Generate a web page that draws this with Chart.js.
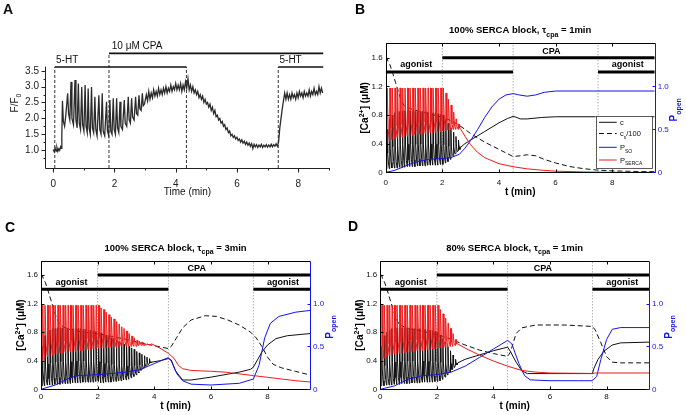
<!DOCTYPE html>
<html>
<head>
<meta charset="utf-8">
<script src="https://cdn.jsdelivr.net/npm/chart.js@4.4.1/dist/chart.umd.min.js"></script>
<style>
  body { margin: 0; background: #fff; width: 686px; height: 415px; position: relative; overflow: hidden; }
  canvas { position: absolute; }
</style>
</head>
<body>
<canvas id="pa" width="343" height="200" style="left:0;top:0"></canvas>
<canvas id="pb" width="343" height="200" style="left:343px;top:0"></canvas>
<canvas id="pc" width="343" height="215" style="left:0;top:200px"></canvas>
<canvas id="pd" width="343" height="215" style="left:343px;top:200px"></canvas>
<script>
var FONT = '"Liberation Sans", Arial, Helvetica, sans-serif';
var RED = '#ee1c1c';
var BLUE = '#1414f0';

// ---------- panel A: measured F/F0 trace (time in min)
var traceA = [
  [0.00,1.02],[0.03,0.95],[0.06,1.06],[0.09,0.97],[0.12,1.08],[0.15,0.96],[0.18,1.04],[0.21,0.99],[0.24,1.10],[0.26,1.05],
  [0.28,1.50],[0.30,2.55],[0.33,1.90],[0.37,1.75],[0.41,2.10],
  [0.47,2.79],[0.50,2.15],[0.54,1.95],
  [0.58,3.15],[0.61,2.00],[0.66,1.80],
  [0.71,3.21],[0.74,1.95],[0.78,1.70],
  [0.82,3.10],[0.85,1.85],[0.89,1.65],
  [0.93,2.99],[0.96,1.80],[1.00,1.60],
  [1.04,3.05],[1.07,1.75],[1.11,1.55],
  [1.14,2.94],[1.17,1.70],[1.21,1.50],
  [1.25,2.99],[1.28,1.70],[1.32,1.55],
  [1.36,2.68],[1.39,1.65],[1.43,1.45],
  [1.49,2.73],[1.52,1.65],[1.56,1.50],
  [1.60,2.79],[1.63,1.60],[1.68,1.45],
  [1.74,2.52],[1.77,1.60],[1.81,1.45],
  [1.85,2.58],[1.88,1.60],[1.92,1.50],
  [1.96,2.63],[1.99,1.65],[2.03,1.50],
  [2.07,2.63],[2.10,1.70],[2.14,1.55],
  [2.18,2.52],[2.21,1.75],[2.26,1.65],
  [2.32,2.58],[2.35,1.85],[2.40,1.75],
  [2.45,2.68],[2.48,1.95],[2.52,1.85],
  [2.56,2.63],[2.59,2.05],[2.64,1.95],
  [2.69,2.68],[2.72,2.15],[2.76,2.10],
  [2.80,2.73],[2.83,2.30],[2.87,2.25],
  [2.91,2.79],[2.94,2.40],[2.98,2.45],
  [3.04,2.75],[3.08,2.55],[3.12,2.85],[3.16,2.60],[3.20,2.80],[3.24,2.65],[3.28,2.90],[3.32,2.70],[3.36,2.85],[3.40,2.70],
  [3.44,2.95],[3.48,2.75],[3.52,2.90],[3.56,2.75],[3.60,2.95],[3.64,2.80],[3.68,3.00],[3.72,2.80],[3.76,2.95],[3.80,2.85],
  [3.84,3.05],[3.88,2.85],[3.92,3.00],[3.96,2.90],[4.00,3.10],[4.04,2.90],[4.08,3.05],[4.12,2.90],[4.16,3.10],[4.20,2.85],
  [4.24,3.05],[4.28,2.90],[4.32,3.15],[4.36,2.95],[4.40,3.25],[4.44,2.90],[4.48,3.05],[4.52,2.85],[4.56,3.00],[4.60,2.80],
  [4.64,2.90],[4.68,2.75],[4.72,2.85],[4.76,2.65],[4.80,2.75],[4.84,2.60],[4.88,2.70],[4.92,2.50],[4.96,2.60],[5.00,2.45],
  [5.04,2.50],[5.08,2.35],[5.12,2.45],[5.16,2.25],[5.20,2.35],[5.24,2.15],[5.28,2.25],[5.32,2.05],[5.36,2.10],[5.40,1.95],
  [5.44,2.00],[5.48,1.85],[5.52,1.90],[5.56,1.75],[5.60,1.80],[5.64,1.65],[5.68,1.70],[5.72,1.55],[5.76,1.60],[5.80,1.45],
  [5.84,1.50],[5.88,1.40],[5.92,1.45],[5.96,1.35],[6.00,1.40],[6.04,1.30],[6.08,1.35],[6.12,1.25],[6.16,1.32],[6.20,1.22],
  [6.24,1.28],[6.28,1.18],[6.32,1.25],[6.36,1.15],[6.40,1.22],[6.44,1.12],[6.48,1.20],[6.52,1.05],[6.56,1.18],[6.60,1.10],
  [6.64,1.17],[6.68,1.08],[6.72,1.16],[6.76,1.10],[6.80,1.18],[6.84,1.08],[6.88,1.15],[6.92,1.10],[6.96,1.17],[7.00,1.09],
  [7.04,1.16],[7.08,1.10],[7.12,1.18],[7.16,1.10],[7.20,1.17],[7.24,1.12],[7.28,1.20],[7.32,1.12],[7.36,1.25],[7.40,1.70],
  [7.44,2.00],[7.48,2.30],[7.52,2.55],[7.56,2.80],[7.60,2.60],[7.64,2.80],[7.68,2.60],[7.72,2.75],[7.76,2.60],[7.80,2.80],
  [7.84,2.65],[7.88,2.75],[7.92,2.60],[7.96,2.80],[8.00,2.65],[8.04,2.85],[8.08,2.70],[8.12,2.80],[8.16,2.65],[8.20,2.85],
  [8.24,2.70],[8.28,2.80],[8.32,2.70],[8.36,2.90],[8.40,2.70],[8.44,2.85],[8.48,2.75],[8.52,2.95],[8.56,2.75],[8.60,2.85],
  [8.64,2.75],[8.68,3.00],[8.72,2.80],[8.76,2.95],[8.80,2.80]
];
var aBars = [[0.05, 4.35, 3.62], [7.35, 8.82, 3.62], [1.82, 8.82, 4.05]];
var aMarks = [[0.05, 3.62], [1.82, 4.05], [4.35, 3.62], [7.35, 3.62]];
var aLabels = [['5-HT', 0.09, 3.84], ['10 μM CPA', 1.91, 4.26], ['5-HT', 7.39, 3.84]];
var aXTicks = [0, 2, 4, 6, 8];
var aXMinor = [1, 3, 5, 7, 9];
var aYTicks = [1.0, 1.5, 2.0, 2.5, 3.0, 3.5];
var aYMinor = [0.75, 1.25, 1.75, 2.25, 2.75, 3.25];

// ---------- panels B-D: model (t in min; c, cs/100 in uM; P on right axis)
var spikeT = [0.04,0.13,0.22,0.31,0.40,0.49,0.58,0.67,0.76,0.85,0.94,1.03,1.12,1.21,1.30,1.39,1.48,1.57,1.66,1.75,
  1.84,1.93,2.02,2.11,2.20,2.29,2.38,2.47,2.56,2.65,2.74,2.83,2.92,3.01,3.10,3.19,3.28,3.37,3.46,3.55,3.64,3.73,3.82];
// before CPA all three runs are the same
var earlyRedPeak = [0.98,0.98,0.98,0.98,0.98,0.98,0.98,0.98,0.98,0.98,0.98,0.98,0.98,0.98,0.98,0.98,0.98,0.98,0.98,0.98,0.98,0.98,0.98];
var earlyRedLow = [0.33,0.36,0.38,0.39,0.40,0.41,0.41,0.42,0.42,0.43,0.43,0.44,0.44,0.44,0.45,0.45,0.45,0.46,0.46,0.46,0.47,0.47,0.48];
var earlyCPeak = [0.60,0.75,0.80,0.83,0.85,0.85,0.86,0.86,0.86,0.86,0.86,0.85,0.85,0.85,0.85,0.85,0.84,0.84,0.83,0.83,0.82,0.81,0.80];
var earlyCLow = [0.05,0.05,0.06,0.06,0.06,0.07,0.07,0.07,0.08,0.08,0.08,0.08,0.09,0.09,0.09,0.09,0.10,0.10,0.10,0.10,0.10,0.11,0.11];

var bRedPeak = [0.92,0.85,0.78,0.70,0.62,0.56];
var bRedLow = [0.48,0.49,0.49,0.50,0.50,0.50];
var bCPeak = [0.74,0.68,0.62,0.56,0.50,0.45];
var bCLow = [0.13,0.15,0.18,0.22,0.26,0.30];
var bRedTail = [[2.65,0.50],[2.8,0.42],[3.0,0.32],[3.25,0.23],[3.5,0.17],[4.0,0.10],[4.5,0.065],[5.0,0.04],[5.5,0.025],[6.0,0.013],[7.0,0.004],[8.0,0],[9.5,0]];
var bCTail = [[2.65,0.35],[2.8,0.40],[3.0,0.45],[3.5,0.57],[4.0,0.69],[4.3,0.75],[4.5,0.78],[4.6,0.77],[4.75,0.745],[5.0,0.745],[5.5,0.765],[6.0,0.775],[9.5,0.775]];
var bBlue = [[0,0],[0.3,0.02],[0.6,0.06],[0.9,0.10],[1.2,0.13],[1.5,0.15],[2.0,0.16],[2.3,0.17],[2.6,0.21],[2.8,0.28],[3.0,0.37],[3.25,0.50],[3.5,0.64],
  [3.75,0.76],[4.0,0.85],[4.25,0.90],[4.5,0.915],[4.7,0.90],[5.0,0.885],[5.3,0.90],[5.6,0.93],[6.0,0.945],[9.5,0.945]];
var bStore = [[0,1.6],[0.04,1.6],[0.08,1.55],[0.15,1.5],[0.25,1.38],[0.35,1.25],[0.45,1.12],[0.55,1.0],[0.65,0.93],[0.8,0.9],[1.0,0.87],[1.2,0.85],
  [1.5,0.82],[1.8,0.79],[2.0,0.77],[2.2,0.74],[2.5,0.68],[2.8,0.6],[3.0,0.54],[3.5,0.42],[4.0,0.32],[4.5,0.22],[4.75,0.23],[5.0,0.245],[5.3,0.23],
  [5.6,0.18],[6.0,0.13],[6.5,0.08],[7.0,0.05],[7.5,0.03],[8.0,0.02],[9.0,0.01],[9.5,0.01]];

var cRedPeak = [0.95,0.93,0.90,0.87,0.84,0.82,0.79,0.76,0.73,0.71,0.68,0.65,0.62,0.60,0.57,0.56,0.55,0.54,0.53,0.52];
var cRedLow = [0.48,0.48,0.48,0.49,0.49,0.49,0.49,0.50,0.50,0.50,0.50,0.50,0.50,0.50,0.50,0.51,0.51,0.51,0.52,0.52];
var cCPeak = [0.79,0.77,0.76,0.74,0.72,0.71,0.69,0.67,0.65,0.63,0.62,0.60,0.58,0.56,0.53,0.51,0.49,0.47,0.45,0.43];
var cCLow = [0.09,0.09,0.10,0.10,0.10,0.11,0.11,0.12,0.12,0.13,0.13,0.14,0.16,0.18,0.20,0.23,0.27,0.30,0.33,0.36];
var cRedTail = [[3.91,0.53],[4.2,0.48],[4.5,0.42],[4.7,0.36],[4.85,0.28],[5.0,0.24],[5.3,0.22],[6.0,0.21],[6.5,0.20],[7.0,0.18],[7.5,0.16],[8.0,0.14],[8.5,0.12],[9.0,0.10],[9.5,0.085]];
var cCTail = [[3.91,0.38],[4.2,0.40],[4.5,0.43],[4.6,0.41],[4.75,0.26],[5.0,0.13],[5.3,0.13],[6.0,0.17],[7.0,0.24],[7.4,0.28],[7.5,0.31],[7.6,0.38],[7.8,0.52],[8.0,0.62],[8.3,0.71],[8.7,0.75],[9.5,0.78]];
var cBlue = [[0,0],[0.5,0.05],[1.0,0.13],[1.3,0.16],[2.0,0.17],[3.0,0.20],[3.5,0.23],[4.0,0.30],[4.5,0.37],[4.6,0.33],[4.8,0.18],[5.0,0.10],[5.3,0.06],
  [6.0,0.05],[7.0,0.07],[7.5,0.12],[7.7,0.28],[7.9,0.60],[8.1,0.77],[8.4,0.85],[9.0,0.90],[9.5,0.92]];
var cStore = [[0,1.6],[0.04,1.6],[0.08,1.55],[0.15,1.5],[0.25,1.38],[0.35,1.25],[0.45,1.12],[0.55,1.0],[0.65,0.92],[0.8,0.87],[1.0,0.84],[1.5,0.8],
  [2.0,0.78],[2.5,0.74],[3.0,0.7],[3.5,0.65],[4.0,0.61],[4.5,0.57],[4.6,0.6],[4.8,0.73],[5.0,0.86],[5.3,0.97],[5.8,1.03],[6.2,1.02],[6.6,0.97],
  [7.0,0.9],[7.4,0.8],[7.6,0.72],[7.8,0.6],[8.0,0.45],[8.2,0.35],[8.5,0.3],[9.0,0.25],[9.5,0.2]];

var dRedPeak = [0.93,0.88,0.83,0.77,0.71,0.65,0.58];
var dRedLow = [0.48,0.49,0.49,0.50,0.50,0.50,0.51];
var dCPeak = [0.76,0.71,0.66,0.60,0.54,0.48,0.42];
var dCLow = [0.12,0.14,0.17,0.20,0.24,0.28,0.33];
var dRedTail = [[2.74,0.53],[3.0,0.48],[3.5,0.40],[4.0,0.33],[4.5,0.27],[5.0,0.22],[5.5,0.20],[6.0,0.19],[7.5,0.185],[7.6,0.19],[9.5,0.19]];
var dCTail = [[2.74,0.37],[3.0,0.42],[3.5,0.48],[4.0,0.54],[4.5,0.59],[4.6,0.53],[4.8,0.38],[5.0,0.26],[5.2,0.22],[6.0,0.22],[7.5,0.22],[7.55,0.29],
  [7.7,0.42],[7.9,0.53],[8.2,0.62],[8.5,0.65],[9.5,0.66]];
var dBlue = [[0,0],[0.5,0.04],[1.0,0.12],[1.5,0.16],[2.0,0.17],[2.5,0.20],[3.0,0.27],[3.5,0.37],[4.0,0.47],[4.3,0.53],[4.5,0.57],[4.65,0.53],[4.9,0.30],
  [5.1,0.16],[5.3,0.11],[6.0,0.10],[7.0,0.10],[7.5,0.10],[7.65,0.15],[7.8,0.35],[8.0,0.58],[8.2,0.70],[8.5,0.72],[9.5,0.72]];
var dStore = [[0,1.6],[0.04,1.6],[0.08,1.55],[0.15,1.5],[0.25,1.38],[0.35,1.25],[0.45,1.12],[0.55,1.0],[0.65,0.92],[0.8,0.88],[1.0,0.85],[1.5,0.81],
  [2.0,0.77],[2.5,0.7],[3.0,0.62],[3.5,0.55],[4.0,0.5],[4.5,0.46],[4.6,0.52],[4.8,0.78],[5.0,0.86],[5.5,0.9],[6.5,0.9],[7.5,0.88],[7.6,0.83],
  [7.8,0.65],[8.0,0.46],[8.2,0.38],[8.5,0.37],[9.5,0.37]];

var events = [2, 4.5, 7.5];
var agonistOn = [[0, 4.5], [7.5, 9.5]];
var cpaOn = [[2, 9.5]];
var agonistLevel = 1.4, cpaLevel = 1.6;
var leftTicks = [0, 0.4, 0.8, 1.2, 1.6];
var rightTicks = [0, 0.5, 1];
var xTicks = [0, 2, 4, 6, 8];

// spike shapes: [dt, fraction of the way from trough to peak]
var redShape = [[0, 0], [0.012, 1], [0.03, 1], [0.05, 0.25]];
var cShape = [[0, 0], [0.012, 1], [0.03, 0.4], [0.06, 0.12]];

function pts(list) {
  return list.map(function (p) { return { x: p[0], y: p[1] }; });
}

function spikes(peaks, lows, shape, tail) {
  var out = [{ x: 0, y: lows[0] }];
  for (var i = 0; i < peaks.length; i++) {
    shape.forEach(function (s) {
      out.push({ x: spikeT[i] + s[0], y: lows[i] + s[1] * (peaks[i] - lows[i]) });
    });
  }
  return out.concat(pts(tail));
}

function seg(ctx, x1, y1, x2, y2) {
  ctx.beginPath(); ctx.moveTo(x1, y1); ctx.lineTo(x2, y2); ctx.stroke();
}

// text with sub/superscripts: parts = [[text, ''|'sub'|'sup'], ...]
function rich(ctx, parts, x, y, size, weight, color, align) {
  function font(k) { return weight + ' ' + (k ? Math.round(size * 0.72) : size) + 'px ' + FONT; }
  var w = 0;
  parts.forEach(function (p) { ctx.font = font(p[1]); w += ctx.measureText(p[0]).width; });
  var cx = align === 'center' ? x - w / 2 : x;
  ctx.fillStyle = color; ctx.textAlign = 'left'; ctx.textBaseline = 'alphabetic';
  parts.forEach(function (p) {
    ctx.font = font(p[1]);
    var dy = p[1] === 'sub' ? size * 0.38 : (p[1] === 'sup' ? -size * 0.4 : 0);
    ctx.fillText(p[0], cx, y + dy);
    cx += ctx.measureText(p[0]).width;
  });
}

function richUp(ctx, parts, cx, cy, size, weight, color) {
  ctx.save();
  ctx.translate(cx, cy);
  ctx.rotate(-Math.PI / 2);
  rich(ctx, parts, 0, size * 0.36, size, weight, color, 'center');
  ctx.restore();
}

function fixedTicks(list) {
  return function (s) { s.ticks = list.map(function (v) { return { value: v }; }); };
}

function lineSet(data, color, axis, order, extra) {
  var d = { data: data, borderColor: color, borderWidth: 1, pointRadius: 0, tension: 0, fill: false, yAxisID: axis, order: order };
  for (var k in extra) d[k] = extra[k];
  return d;
}

// ---------- panel A chart
var aSets = [lineSet(pts(traceA), '#2b2b2b', 'y', 2, { borderWidth: 1.3 })];
aBars.forEach(function (b) {
  aSets.push(lineSet([{ x: b[0], y: b[2] }, { x: b[1], y: b[2] }], '#111', 'y', 1, { borderWidth: 1.6 }));
});
aMarks.forEach(function (m) {
  aSets.push(lineSet([{ x: m[0], y: 0.434 }, { x: m[0], y: m[1] }], '#333', 'y', 3, { borderDash: [3, 2] }));
});

new Chart(document.getElementById('pa'), {
  type: 'line',
  data: { datasets: aSets },
  options: {
    responsive: false, animation: false, events: [],
    layout: { padding: { top: 35.9, right: 13, left: 0, bottom: 0 } },
    plugins: { legend: { display: false }, tooltip: { enabled: false } },
    scales: {
      x: {
        type: 'linear', min: -0.27, max: 9.04,
        grid: { display: false, drawTicks: false }, border: { display: false },
        afterBuildTicks: fixedTicks(aXTicks),
        afterFit: function (s) { s.height = 32; },
        ticks: { padding: 10, color: '#222', font: { family: FONT, size: 10 }, maxRotation: 0, autoSkip: false }
      },
      y: {
        min: 0.434, max: 4.6,
        grid: { display: false, drawTicks: false }, border: { display: false },
        afterBuildTicks: fixedTicks(aYTicks),
        afterFit: function (s) { s.width = 45; },
        ticks: { padding: 6, color: '#222', font: { family: FONT, size: 10 }, callback: function (v) { return v.toFixed(1); } }
      }
    }
  },
  plugins: [{
    id: 'panelA',
    afterDraw: function (chart) {
      var ctx = chart.ctx, ca = chart.chartArea, xs = chart.scales.x, ys = chart.scales.y;
      ctx.save();
      ctx.strokeStyle = '#222'; ctx.lineWidth = 1;
      var x0 = Math.round(ca.left) + 0.5, yb = Math.round(ca.bottom) + 0.5;
      seg(ctx, x0, yb, x0, ys.getPixelForValue(3.63));
      seg(ctx, x0, yb, ca.right, yb);
      aYTicks.forEach(function (v) { var p = Math.round(ys.getPixelForValue(v)) + 0.5; seg(ctx, x0 - 4, p, x0, p); });
      aYMinor.forEach(function (v) { var p = Math.round(ys.getPixelForValue(v)) + 0.5; seg(ctx, x0 - 2, p, x0, p); });
      aXTicks.forEach(function (v) { var p = Math.round(xs.getPixelForValue(v)) + 0.5; seg(ctx, p, yb, p, yb + 4); });
      aXMinor.forEach(function (v) { var p = Math.round(xs.getPixelForValue(v)) + 0.5; seg(ctx, p, yb, p, yb + 2); });
      ctx.fillStyle = '#111'; ctx.font = '10px ' + FONT; ctx.textAlign = 'left'; ctx.textBaseline = 'middle';
      aLabels.forEach(function (l) { ctx.fillText(l[0], xs.getPixelForValue(l[1]), ys.getPixelForValue(l[2])); });
      ctx.textAlign = 'center';
      ctx.fillText('Time (min)', (ca.left + ca.right) / 2, 192);
      richUp(ctx, [['F/F', ''], ['0', 'sub']], 14, 103, 10, 'normal', '#222');
      ctx.font = 'bold 14px ' + FONT; ctx.textAlign = 'left'; ctx.textBaseline = 'alphabetic';
      ctx.fillText('A', 3, 14);
      ctx.restore();
    }
  }]
});

// ---------- model panels
function modelChart(id, p) {
  var sets = [
    lineSet(spikes(earlyRedPeak.concat(p.redPeak), earlyRedLow.concat(p.redLow), redShape, p.redTail), RED, 'y1', 2),
    lineSet(pts(p.blue), BLUE, 'y1', 3),
    lineSet(pts(p.store), '#111', 'y', 4, { borderDash: [5, 3] }),
    lineSet(spikes(earlyCPeak.concat(p.cPeak), earlyCLow.concat(p.cLow), cShape, p.cTail), '#111', 'y', 5)
  ];
  agonistOn.forEach(function (b) {
    sets.push(lineSet([{ x: b[0], y: agonistLevel }, { x: b[1], y: agonistLevel }], '#000', 'y', 1, { borderWidth: 3, borderCapStyle: 'butt' }));
  });
  cpaOn.forEach(function (b) {
    sets.push(lineSet([{ x: b[0], y: cpaLevel }, { x: b[1], y: cpaLevel }], '#000', 'y', 1, { borderWidth: 3, borderCapStyle: 'butt' }));
  });
  events.forEach(function (e) {
    sets.push(lineSet([{ x: e, y: 0 }, { x: e, y: 1.8 }], '#8a8a8a', 'y', 6, { borderDash: [1, 2] }));
  });
  var tickFont = { family: FONT, size: 8 };
  return new Chart(document.getElementById(id), {
    type: 'line',
    data: { datasets: sets },
    options: {
      responsive: false, animation: false, events: [],
      layout: { padding: { top: p.top, right: 0, left: 0, bottom: 0 } },
      plugins: { legend: { display: false }, tooltip: { enabled: false } },
      scales: {
        x: {
          type: 'linear', min: 0, max: 9.5,
          grid: { display: false, drawTicks: false }, border: { display: false },
          afterBuildTicks: fixedTicks(xTicks),
          afterFit: function (s) { s.height = p.xH; },
          ticks: { padding: p.xPad, color: '#111', font: tickFont, maxRotation: 0, autoSkip: false }
        },
        y: {
          min: 0, max: 1.8,
          grid: { display: false, drawTicks: false }, border: { display: false },
          afterBuildTicks: fixedTicks(leftTicks),
          afterFit: function (s) { s.width = p.left; },
          ticks: { padding: 3, color: '#111', font: tickFont }
        },
        y1: {
          position: 'right', min: 0, max: 1.5,
          grid: { display: false, drawTicks: false }, border: { display: false },
          afterBuildTicks: fixedTicks(rightTicks),
          afterFit: function (s) { s.width = p.rightW; },
          ticks: { padding: 3, color: BLUE, font: tickFont }
        }
      }
    },
    plugins: [{
      id: 'modelFrame',
      afterDraw: function (chart) {
        var ctx = chart.ctx, ca = chart.chartArea, xs = chart.scales.x, ys = chart.scales.y, yr = chart.scales.y1;
        var L = Math.round(ca.left) + 0.5, R = Math.round(ca.right) + 0.5, T = Math.round(ca.top) + 0.5, B = Math.round(ca.bottom) + 0.5;
        ctx.save();
        ctx.lineWidth = 1; ctx.strokeStyle = '#000';
        seg(ctx, L, T, R, T); seg(ctx, L, B, R, B); seg(ctx, L, T, L, B);
        xTicks.forEach(function (v) {
          var q = Math.round(xs.getPixelForValue(v)) + 0.5;
          seg(ctx, q, B, q, B - 3); seg(ctx, q, T, q, T + 3);
        });
        leftTicks.forEach(function (v) { var q = Math.round(ys.getPixelForValue(v)) + 0.5; seg(ctx, L, q, L + 3, q); });
        ctx.strokeStyle = BLUE;
        seg(ctx, R, T, R, B);
        rightTicks.forEach(function (v) { var q = Math.round(yr.getPixelForValue(v)) + 0.5; seg(ctx, R, q, R - 3, q); });

        // stimulus labels
        ctx.fillStyle = '#000'; ctx.font = 'bold 9px ' + FONT; ctx.textAlign = 'center'; ctx.textBaseline = 'middle';
        ctx.fillText('agonist', xs.getPixelForValue(1.08), ys.getPixelForValue(1.5));
        ctx.fillText('agonist', xs.getPixelForValue(8.55), ys.getPixelForValue(1.5));
        ctx.fillText('CPA', xs.getPixelForValue(p.cpaX), ys.getPixelForValue(1.69));

        // titles and axis labels
        rich(ctx, p.title, (ca.left + ca.right) / 2, ca.top - 10, 9.5, 'bold', '#000', 'center');
        ctx.font = 'bold 10px ' + FONT; ctx.textAlign = 'center'; ctx.textBaseline = 'middle'; ctx.fillStyle = '#000';
        ctx.fillText('t (min)', (ca.left + ca.right) / 2, ca.bottom + p.xLab);
        richUp(ctx, [['[Ca', ''], ['2+', 'sup'], ['] (\u03bcM)', '']], ca.left - 21, (ca.top + ca.bottom) / 2, 10, 'bold', '#000');
        richUp(ctx, [['P', ''], ['open', 'sub']], ca.right + 19, (ca.top + ca.bottom) / 2 + 2, 10, 'bold', BLUE);
        ctx.font = 'bold 14px ' + FONT; ctx.textAlign = 'left'; ctx.textBaseline = 'alphabetic'; ctx.fillStyle = '#000';
        ctx.fillText(p.letter, p.letterX, p.letterY);

        if (p.legend) {
          var bx = ca.right - 59, by = ca.top + 72.4, bw = 56, bh = ca.bottom - 5 - by;
          ctx.fillStyle = '#fff'; ctx.fillRect(bx, by, bw, bh);
          ctx.strokeStyle = '#333'; ctx.lineWidth = 0.8; ctx.setLineDash([]);
          ctx.strokeRect(Math.round(bx) + 0.5, Math.round(by) + 0.5, Math.round(bw), Math.round(bh));
          var rows = [
            { y: 6.6, c: '#111', dash: [], t: [['c', '']] },
            { y: 17.8, c: '#111', dash: [5, 3], t: [['c', ''], ['s', 'sub'], ['/100', '']] },
            { y: 31.6, c: BLUE, dash: [], t: [['P', ''], ['SO', 'sub']] },
            { y: 44.3, c: RED, dash: [], t: [['P', ''], ['SERCA', 'sub']] }
          ];
          rows.forEach(function (r) {
            ctx.strokeStyle = r.c; ctx.lineWidth = 1; ctx.setLineDash(r.dash);
            seg(ctx, bx + 3.3, by + r.y, bx + 21, by + r.y);
            ctx.setLineDash([]);
            rich(ctx, r.t, bx + 24.3, by + r.y + 2.5, 7.5, 'normal', '#111', 'left');
          });
        }
        ctx.restore();
      }
    }]
  });
}

modelChart('pb', {
  redPeak: bRedPeak, redLow: bRedLow, redTail: bRedTail, cPeak: bCPeak, cLow: bCLow, cTail: bCTail, blue: bBlue, store: bStore,
  top: 43.3, left: 42.7, rightW: 31.3, xH: 27.7, xPad: 6, xLab: 20, cpaX: 5.85,
  title: [['100% SERCA block, \u03c4', ''], ['cpa', 'sub'], [' = 1min', '']],
  letter: 'B', letterX: 12, letterY: 14, legend: true
});
modelChart('pc', {
  redPeak: cRedPeak, redLow: cRedLow, redTail: cRedTail, cPeak: cCPeak, cLow: cCLow, cTail: cCTail, blue: cBlue, store: cStore,
  top: 60.7, left: 41, rightW: 33, xH: 25.7, xPad: 3, xLab: 17.4, cpaX: 5.5,
  title: [['100% SERCA block, \u03c4', ''], ['cpa', 'sub'], [' = 3min', '']],
  letter: 'C', letterX: 5, letterY: 32, legend: false
});
modelChart('pd', {
  redPeak: dRedPeak, redLow: dRedLow, redTail: dRedTail, cPeak: dCPeak, cLow: dCLow, cTail: dCTail, blue: dBlue, store: dStore,
  top: 60.7, left: 37.3, rightW: 37, xH: 25.7, xPad: 3, xLab: 17.4, cpaX: 5.75,
  title: [['80% SERCA block, \u03c4', ''], ['cpa', 'sub'], [' = 1min', '']],
  letter: 'D', letterX: 5, letterY: 31, legend: false
});
</script>
</body>
</html>
